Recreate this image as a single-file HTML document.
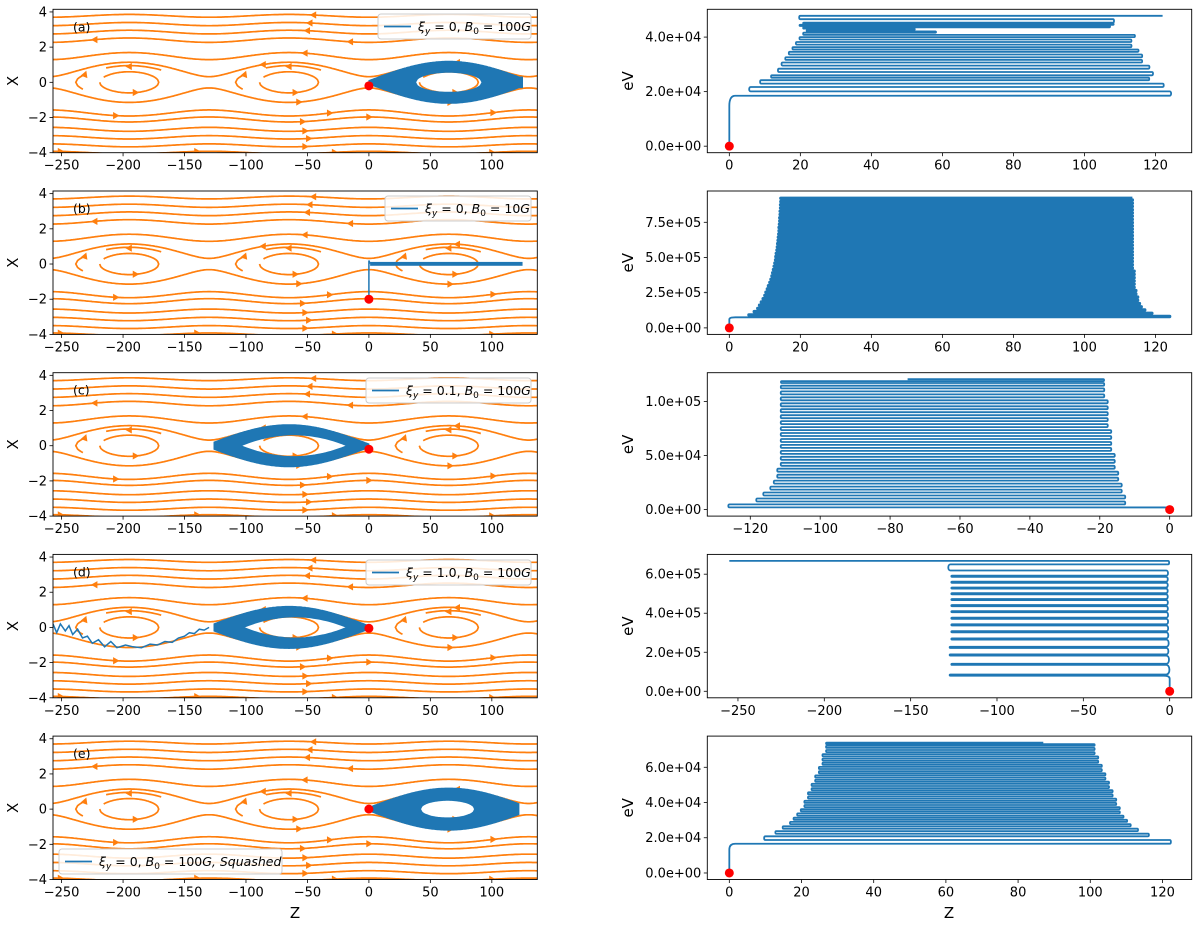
<!DOCTYPE html>
<html><head><meta charset="utf-8"><style>
html,body{margin:0;padding:0;background:#fff}
svg{display:block;font-family:"DejaVu Sans","Liberation Sans",sans-serif}
</style></head><body>
<svg id="fig" width="1200" height="925" viewBox="0 0 1200 925" xmlns="http://www.w3.org/2000/svg"></svg>
<script>
// ---------- data ----------
const rowLabels = ['(a)','(b)','(c)','(d)','(e)'];
const streamUpper = [3.7, 3.22, 2.75, 2.27, 1.29, 0.32];
const streamLower = [-0.32, -1.57, -1.97, -2.56, -3.03, -3.5, -3.92];
const islandCenters = [-195, -65, 65];
const arrowLevels = [3.7, 3.22, 2.75, 2.27, 2.27, 1.29, 0.32, 0.32, -0.32, -0.32, -1.57, -1.57, -1.57, -1.97, -1.97, -2.56, -3.03, -3.5, -3.92, -3.92, -3.92, -3.92];
const arrowZ      = [-45, -48, -50, -223, -15, -52, -86, 72, -57, 66, -206, -32, 101, -54, 0, -52, -49, -52, -251, -140, -28, 100];
const leftTicksZ = [-250,-200,-150,-100,-50,0,50,100];
const leftTicksX = [-4,-2,0,2,4];
const startX = [-0.2, -2, -0.2, -0.05, 0];

// right panel (a)
const aE = [18500,21700,24200,26000,28400,30700,32600,34600,36300,38200,40000,41600,42600,43600,44500,45300,47800];
const aR = [124,122,118,119,118,116,116,115,113,113,114,58,52,107,108,108,122];
const aL = [6,9,12,14,15,16,17,18,19,20,21,22,21,20,21,20,null];
// right panel (b)
const bE = [75000,98000,121000,144000,167000,190000,213000,236000,259000,282000,305000,328000,351000,374000,397000,420000,443000,466000,489000,512000,535000,558000,581000,604000,627000,650000,673000,696000,719000,742000,765000,788000,811000,834000,857000,880000,903000,926000];
const bR = [124,119,117,116,115.5,115,115,114.5,114.5,114,114,114,114,114,114,113.5,113.5,113.5,113.5,113.5,113.5,113.5,113.5,113.5,113.5,113.5,113.5,113.5,113.5,113.5,113.5,113.5,113.5,113.5,113.5,113.5,113.5,113.5];
const bL = [5.5,7,8,8.5,9,9.5,10,10.3,10.7,11,11.4,11.7,12,12.2,12.4,12.6,12.8,13,13.1,13.2,13.4,13.5,13.6,13.7,13.8,13.9,14,14,14.1,14.2,14.2,14.3,14.3,14.4,14.4,14.5,14.5,null];
// right panel (c)
const cE = [2000,7500,13000,18500,24000,29500,35000,40500,46000,51500,57000,62500,68000,73500,79000,84500,90000,95500,101000,106500,112000,117000,120500];
const cL = [-126,-118,-116,-114,-113,-112,-112,-111,-111,-111,-111,-111,-111,-111,-111,-111,-111,-111,-111,-111,-111,-111,-75];
const cR = [-13,-13,-14,-14,-15,-15,-16,-16,-16,-17,-17,-17,-17,-18,-18,-18,-18,-18,-19,-19,-19,-19,null];
// right panel (d)
const dE  = [80000,135000,183000,222000,265000,302000,337000,371000,405000,436000,467000,497000,526000,556000,586000,619000,668000];
const dE2 = [86000,141000,189000,228000,271000,308000,343000,377000,411000,442000,473000,503000,532000,562000,592000,650000];
const dL  = [-127,-126,-127,-127,-126,-126,-126,-126,-126,-126,-126,-126,-126,-126,-126,-127,-255];
const dR  = [-2,-2,-2,-2,-2,-2,-2,-2,-2,-2,-2,-2,-2,-2,-2,-1,null];
// right panel (e)
const eE = [16600,20800,23800,26500,29000,31400,33800,36200,38600,41000,43400,45800,48200,50600,53000,55400,57800,60200,62600,65000,67400,69800,72200,74000];
const eR = [122,116,113,111,110,109,108,108,107,107,106,106,105,105,104,104,103,103,102,102,101,101,101,87];
const eL = [10,13,15,17,18,19,20,21,21,22,22,23,23,24,24,25,25,26,26,26,27,27,27,null];

const rxTicksA = [0,20,40,60,80,100,120];
const rxTicksC = [-120,-100,-80,-60,-40,-20,0];
const rxTicksD = [-250,-200,-150,-100,-50,0];
const ryTicksA = [0,20000,40000];
const ryLabelsA = ['0.0e+00','2.0e+04','4.0e+04'];
const ryTicksB = [0,250000,500000,750000];
const ryLabelsB = ['0.0e+00','2.5e+05','5.0e+05','7.5e+05'];
const ryTicksC = [0,50000,100000];
const ryLabelsC = ['0.0e+00','5.0e+04','1.0e+05'];
const ryTicksD = [0,200000,400000,600000];
const ryLabelsD = ['0.0e+00','2.0e+05','4.0e+05','6.0e+05'];
const ryTicksE = [0,20000,40000,60000];
const ryLabelsE = ['0.0e+00','2.0e+04','4.0e+04','6.0e+04'];

// ---------- layout ----------
const NS='http://www.w3.org/2000/svg';
const svg=document.getElementById('fig');
function mk(tag,attrs,parent){const e=document.createElementNS(NS,tag);for(const k in attrs)e.setAttribute(k,attrs[k]);(parent||svg).appendChild(e);return e;}
const ROWB=[152.7,334.4,516.1,697.8,879.5], H=143.4;
const LX0=53, LX1=537.3, RX0=707.3, RX1=1191.7;
const ZMIN=-257, ZMAX=137, XMIN=-4, XMAX=4.15;
const ORANGE='#ff7f0e', BLUE='#1f77b4';
const EPS=0.3, K=2*Math.PI/130;
function zx(z){return LX0+(z-ZMIN)/(ZMAX-ZMIN)*(LX1-LX0);}
function xy(x,r){return ROWB[r]-(x-XMIN)/(XMAX-XMIN)*H;}
function lineX(z,a){const psi=a*a/2+EPS;const v=2*(psi+EPS*Math.cos(K*(z-65)));return Math.sign(a)*Math.sqrt(Math.max(v,0));}
function sepX(z){return 2*Math.sqrt(EPS)*Math.abs(Math.cos(K*(z-65)/2));}
function loopPts(c,x0){const psi=x0*x0/2-EPS;const tm=Math.acos(Math.max(-1,-psi/EPS));const up=[],lo=[];const N=60;
  for(let i=0;i<=N;i++){const t=-tm+2*tm*i/N;const v=Math.sqrt(Math.max(0,2*(psi+EPS*Math.cos(t))));up.push([c+t/K,v]);lo.push([c+t/K,-v]);}
  return up.concat(lo.reverse());}
function arrowAt(px,py,ang,color,parent,name){const s=6.5,w=3.6;const ca=Math.cos(ang),sa=Math.sin(ang);
  const p=[[px+ca*s*0.6,py+sa*s*0.6],[px-ca*s*0.4-sa*w,py-sa*s*0.4+ca*w],[px-ca*s*0.4+sa*w,py-sa*s*0.4-ca*w]];
  const t=mk('polygon',{points:p.map(q=>q.join(',')).join(' '),fill:color},parent);
  
  return t;}
function txt(x,y,s,attrs,parent){const t=mk('text',Object.assign({x:x,y:y,'font-size':13,fill:'#000'},attrs||{}),parent);t.textContent=s;return t;}

const defs=mk('defs',{});
for(let r=0;r<5;r++){
  const cp=mk('clipPath',{id:'cl'+r},defs);mk('rect',{x:LX0,y:ROWB[r]-H,width:LX1-LX0,height:H},cp);
  const cp2=mk('clipPath',{id:'cr'+r},defs);mk('rect',{x:RX0,y:ROWB[r]-H,width:RX1-RX0,height:H},cp2);
}

// ---------- left panels ----------
const leftTraj=[
  {type:'right',hole:[65,27,0.57],ell:true,end:125},
  {type:'flat'},
  {type:'lens',hole:[-61,43,0.62]},
  {type:'lens',hole:[-60,42,0.6],zig:[[-130,0],[-134,-0.15],[-138,-0.1],[-142,-0.35],[-146,-0.3],[-150,-0.5],[-155,-0.6],[-160,-0.85],[-166,-0.8],[-172,-1.0],[-178,-0.95],[-185,-1.15],[-192,-1.1],[-198,-1.0],[-205,-1.15],[-210,-0.8],[-215,-1.1],[-220,-0.7],[-225,-0.9],[-229,-0.5],[-233,-0.6],[-237,-0.1],[-241,-0.4],[-244,0.1],[-247,-0.2],[-251,0.2],[-254,-0.3],[-257,0.2]]},
  {type:'right',hole:[64,22,0.5],ell:true,end:122}
];
const legendsL=[
  {x:378,y:14,w:153,main:' = 0, ',B:'100',extra:''},
  {x:385,y:196,w:146,main:' = 0, ',B:'10',extra:''},
  {x:366,y:378,w:165,main:' = 0.1, ',B:'100',extra:''},
  {x:366,y:560,w:165,main:' = 1.0, ',B:'100',extra:''},
  {x:59,y:849,w:223,main:' = 0, ',B:'100',extra:', Squashed'}
];

for(let r=0;r<5;r++){
  const g=mk('g',{});
  
  
  const cg=mk('g',{'clip-path':'url(#cl'+r+')'},g);
  streamUpper.concat(streamLower).forEach(a=>{
    let d='';for(let z=ZMIN;z<=ZMAX;z+=1){d+=(d?' L':'M')+zx(z).toFixed(1)+','+xy(lineX(z,a),r).toFixed(1);}
    const p=mk('path',{d:d,fill:'none',stroke:ORANGE,'stroke-width':1.7},cg);
    
    
  });
  arrowLevels.forEach((a,i)=>{const z=arrowZ[i];arrowAt(zx(z),xy(lineX(z,a),r),a>0?Math.PI:0,ORANGE,cg,'field-arrow');});
  islandCenters.forEach(c=>{
    const inner=loopPts(c,0.6);
    const pts=inner.slice(4).concat(inner.slice(0,1));
    const p=mk('path',{d:'M'+pts.map(q=>zx(q[0]).toFixed(1)+','+xy(q[1],r).toFixed(1)).join(' L'),fill:'none',stroke:ORANGE,'stroke-width':1.7},cg);
    
    
    const outer=loopPts(c,0.95);const n=outer.length;
    const top=outer.slice(Math.round(n*0.14),Math.round(n*0.40));
    const p2=mk('path',{d:'M'+top.map(q=>zx(q[0]).toFixed(1)+','+xy(q[1],r).toFixed(1)).join(' L'),fill:'none',stroke:ORANGE,'stroke-width':1.7},cg);
    
    
    const endArc=outer.slice(n-5).concat(outer.slice(0,5));
    const p3=mk('path',{d:'M'+endArc.map(q=>zx(q[0]).toFixed(1)+','+xy(q[1],r).toFixed(1)).join(' L'),fill:'none',stroke:ORANGE,'stroke-width':1.7},cg);
    
    
    arrowAt(zx(c),xy(0.9,r),Math.PI,ORANGE,cg,'island-arrow');
    arrowAt(zx(c+5),xy(-0.58,r),0,ORANGE,cg,'island-arrow');
    arrowAt(zx(c-36),xy(0.45,r),-Math.PI/2.6,ORANGE,cg,'island-arrow');
  });
  const tr=leftTraj[r];
  if(tr.type==='flat'){
    const p=mk('path',{d:`M${zx(0)},${xy(-2,r)} L${zx(0)},${xy(0.2,r)} L${zx(1)},${xy(0.02,r)}`,fill:'none',stroke:BLUE,'stroke-width':1.5},cg);
    
    
    const b=mk('rect',{x:zx(1),y:xy(0.12,r),width:zx(125)-zx(1),height:xy(-0.1,r)-xy(0.12,r),fill:BLUE},cg);
    
    
  } else {
    let z0,z1;
    if(tr.type==='right'){z0=0;z1=tr.end;} else {z0=-126;z1=0;}
    const up=[],lo=[];
    for(let z=z0;z<=z1;z+=1){let w=sepX(z)+0.1;if(tr.type==='right'&&z>95)w=Math.max(w,0.3);up.push([z,w]);lo.push([z,-w]);}
    let d='M'+up.concat(lo.reverse()).map(q=>zx(q[0]).toFixed(1)+','+xy(q[1],r).toFixed(1)).join(' L')+' Z';
    const [hc,hl,hh]=tr.hole;const hu=[],hd=[];
    for(let i=0;i<=40;i++){const t=-1+2*i/40;const w=tr.ell?hh*Math.sqrt(1-t*t):hh*(1-t*t);hu.push([hc+t*hl,w]);hd.push([hc+t*hl,-w]);}
    d+=' M'+hu.concat(hd.reverse()).map(q=>zx(q[0]).toFixed(1)+','+xy(q[1],r).toFixed(1)).join(' L')+' Z';
    const p=mk('path',{d:d,fill:BLUE,'fill-rule':'evenodd',stroke:BLUE,'stroke-width':1},cg);
    
    
    if(tr.zig){
      const z=mk('path',{d:'M'+tr.zig.map(q=>zx(q[0]).toFixed(1)+','+xy(q[1],r).toFixed(1)).join(' L'),fill:'none',stroke:BLUE,'stroke-width':1.5},cg);
      
      
    }
  }
  const dot=mk('circle',{cx:zx(0),cy:xy(startX[r],r),r:4.5,fill:'red'},g);
  
  
  const fr=mk('rect',{x:LX0,y:ROWB[r]-H,width:LX1-LX0,height:H,fill:'none',stroke:'#000','stroke-width':0.9},g);
  
  
  leftTicksZ.forEach(z=>{const t=mk('line',{x1:zx(z),x2:zx(z),y1:ROWB[r],y2:ROWB[r]+3.5,stroke:'#000','stroke-width':0.8},g);
    
    
    const l=txt(zx(z),ROWB[r]+17,String(z).replace('-','\u2212'),{'text-anchor':'middle'},g);
    
    });
  leftTicksX.forEach(x=>{const t=mk('line',{x1:LX0-3.5,x2:LX0,y1:xy(x,r),y2:xy(x,r),stroke:'#000','stroke-width':0.8},g);
    
    
    const l=txt(LX0-6,xy(x,r)+4.5,String(x).replace('-','\u2212'),{'text-anchor':'end'},g);
    
    });
  const yl=txt(18,ROWB[r]-H/2,'X',{'text-anchor':'middle','font-size':15,transform:`rotate(-90 18 ${ROWB[r]-H/2})`},g);
  
  
  const pl=txt(73,ROWB[r]-H+22,rowLabels[r],{'font-size':12.5},g);
  
  
  const L=legendsL[r];
  const lg=mk('g',{},g);
  
  
  mk('rect',{x:L.x,y:L.y,width:L.w,height:25,rx:3,fill:'#fff','fill-opacity':0.85,stroke:'#ccc','stroke-width':1},lg);
  mk('line',{x1:L.x+6,x2:L.x+33,y1:L.y+12.5,y2:L.y+12.5,stroke:BLUE,'stroke-width':1.7},lg);
  const lt=mk('text',{x:L.x+40,y:L.y+17,'font-size':12.5},lg);
  
  
  lt.innerHTML=`<tspan font-style="italic">ξ</tspan><tspan font-style="italic" font-size="9" dy="3">y</tspan><tspan dy="-3">${L.main}</tspan><tspan font-style="italic">B</tspan><tspan font-size="9" dy="3">0</tspan><tspan dy="-3"> = ${L.B}</tspan><tspan font-style="italic">G${L.extra}</tspan>`;
}
const zl=txt(295,918,'Z',{'text-anchor':'middle','font-size':15});



// ---------- right panels ----------
const rightCfg=[
  {E:aE,A:aR,B:aL,first:1,xt:rxTicksA,yt:ryTicksA,yl:ryLabelsA},
  {E:bE,A:bR,B:bL,first:1,xt:rxTicksA,yt:ryTicksB,yl:ryLabelsB},
  {E:cE,A:cL,B:cR,first:-1,xt:rxTicksC,yt:ryTicksC,yl:ryLabelsC},
  {E:dE,E2:dE2,A:dL,B:dR,first:-1,xt:rxTicksD,yt:ryTicksD,yl:ryLabelsD},
  {E:eE,A:eR,B:eL,first:1,xt:rxTicksA,yt:ryTicksE,yl:ryLabelsE}
];
rightCfg.forEach((cfg,r)=>{
  const g=mk('g',{});
  
  
  const segs=[];
  for(let i=0;i<cfg.E.length;i++){
    segs.push({e:cfg.E[i],z:cfg.A[i]});
    if(cfg.B[i]!==null){
      let e2;
      if(cfg.E2&&cfg.E2[i]!==undefined)e2=cfg.E2[i];
      else if(i+1<cfg.E.length)e2=(cfg.E[i]+cfg.E[i+1])/2;
      else e2=cfg.E[i]+(cfg.E[i]-cfg.E[i-1])/2;
      segs.push({e:e2,z:cfg.B[i]});
    }
  }
  let zmin=0,zmax=0,emax=0;
  segs.forEach(s=>{zmin=Math.min(zmin,s.z);zmax=Math.max(zmax,s.z);emax=Math.max(emax,s.e);});
  const zs=zmax-zmin;const x0=zmin-0.05*zs,x1=zmax+0.05*zs;const y0=-0.05*emax,y1=1.05*emax;
  const X=z=>RX0+(z-x0)/(x1-x0)*(RX1-RX0);
  const Y=e=>ROWB[r]-(e-y0)/(y1-y0)*H;
  const E0=segs[0].e;
  let d=`M${X(0)},${Y(0)} L${X(0)},${Y(E0*0.8)} Q${X(0)},${Y(E0)} ${X(0)+cfg.first*6},${Y(E0)}`;
  let prevZ=0;
  for(let i=0;i<segs.length;i++){
    const s=segs[i];d+=` L${X(s.z).toFixed(1)},${Y(s.e).toFixed(1)}`;
    if(i+1<segs.length){const n=segs[i+1];const dir=Math.sign(s.z-prevZ)||1;const b=Math.max(1,0.45*Math.abs(Y(n.e)-Y(s.e)));
      d+=` C${(X(s.z)+dir*b).toFixed(1)},${Y(s.e).toFixed(1)} ${(X(s.z)+dir*b).toFixed(1)},${Y(n.e).toFixed(1)} ${X(s.z).toFixed(1)},${Y(n.e).toFixed(1)}`;}
    prevZ=s.z;
  }
  const cg=mk('g',{'clip-path':'url(#cr'+r+')'},g);
  const p=mk('path',{d:d,fill:'none',stroke:BLUE,'stroke-width':1.8,'stroke-linejoin':'round'},cg);
  
  
  const dot=mk('circle',{cx:X(0),cy:Y(0),r:4.5,fill:'red'},g);
  
  
  const fr=mk('rect',{x:RX0,y:ROWB[r]-H,width:RX1-RX0,height:H,fill:'none',stroke:'#000','stroke-width':0.9},g);
  
  
  cfg.xt.forEach(z=>{const t=mk('line',{x1:X(z),x2:X(z),y1:ROWB[r],y2:ROWB[r]+3.5,stroke:'#000','stroke-width':0.8},g);
    
    
    const l=txt(X(z),ROWB[r]+17,String(z).replace('-','\u2212'),{'text-anchor':'middle'},g);
    
    });
  cfg.yt.forEach((v,i)=>{const t=mk('line',{x1:RX0-3.5,x2:RX0,y1:Y(v),y2:Y(v),stroke:'#000','stroke-width':0.8},g);
    
    
    const l=txt(RX0-6,Y(v)+4.5,cfg.yl[i],{'text-anchor':'end'},g);
    
    });
  const yl=txt(633,ROWB[r]-H/2,'eV',{'text-anchor':'middle','font-size':15,transform:`rotate(-90 633 ${ROWB[r]-H/2})`},g);
  
  
});
const zr=txt(949,918,'Z',{'text-anchor':'middle','font-size':15});


</script>
</body></html>
